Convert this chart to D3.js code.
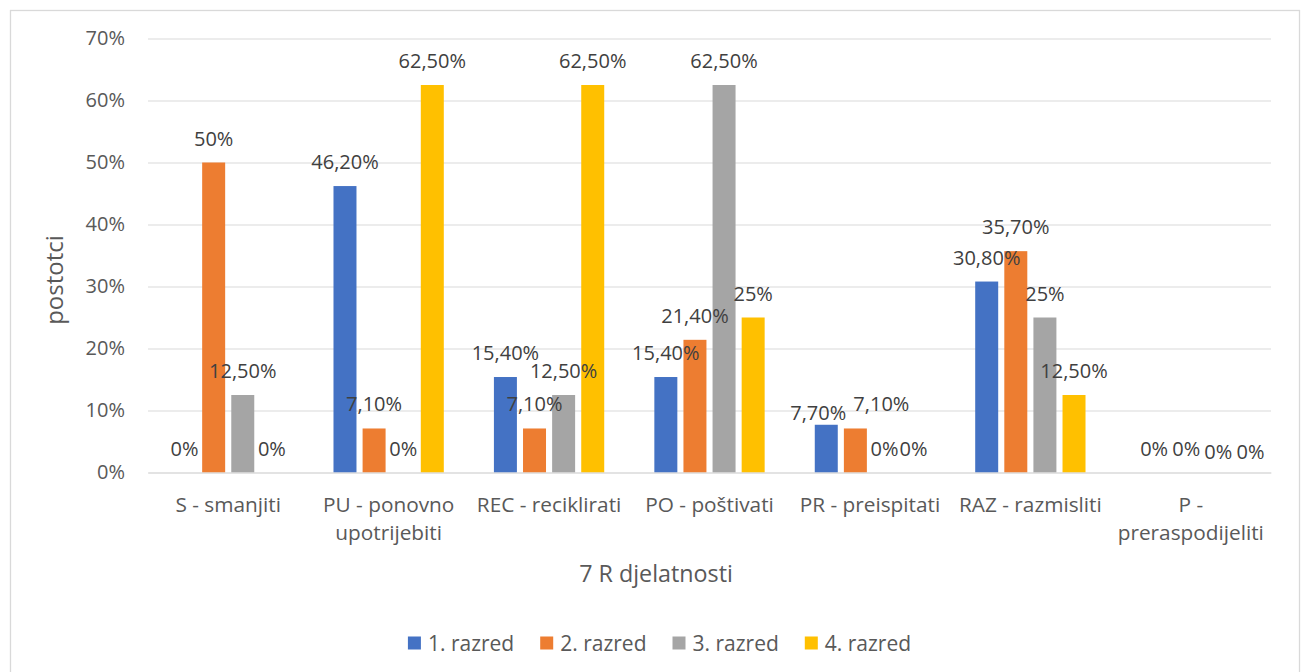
<!DOCTYPE html>
<html><head><meta charset="utf-8">
<script src="https://cdn.jsdelivr.net/npm/d3@7"></script>
<style>
body{margin:0;background:#fff}
text{font-family:"Open Sans","Noto Sans",sans-serif}
</style>
</head><body><svg id="c" width="1304" height="672"></svg>
<script>
const categories = ["S - smanjiti","PU - ponovno upotrijebiti","REC - reciklirati","PO - poštivati","PR - preispitati","RAZ - razmisliti","P - preraspodijeliti"];
const seriesNames = ["1. razred","2. razred","3. razred","4. razred"];
const seriesColors = ["#4472C4","#ED7D31","#A5A5A5","#FFC000"];
const razred1 = [0, 46.2, 15.4, 15.4, 7.7, 30.8, 0];
const razred2 = [50, 7.1, 7.1, 21.4, 7.1, 35.7, 0];
const razred3 = [12.5, 0, 12.5, 62.5, 0, 25, 0];
const razred4 = [0, 62.5, 62.5, 25, 0, 12.5, 0];
const yTicks = [0,10,20,30,40,50,60,70];
const yAxisTitle = "postotci";
const xAxisTitle = "7 R djelatnosti";

// label placement adjustments (style only), key: "categoryIndex-seriesIndex" -> [dx, dy]
const labelNudge = {"4-0":[-8,12], "4-1":[26,0], "6-0":[7,0], "6-1":[10,0], "6-2":[13,3], "6-3":[16,3]};

const seriesValues = [razred1, razred2, razred3, razred4];
const rows = categories.map((c,i)=>({cat:c, ci:i, vals: seriesValues.map((s,j)=>({s:j, ci:i, v:s[i]}))}));

const svg = d3.select("#c");
const L = 148, R = 1271, T = 38.5, B = 472.5;
const FS = 20, FONT = '"Open Sans","Noto Sans",sans-serif';

// chart border
svg.append("rect").attr("x",10.5).attr("y",10.5).attr("width",1289).attr("height",700)
  .attr("fill","#fff").attr("stroke","#D9D9D9").attr("stroke-width",1.3);

const x0 = d3.scaleBand().domain(categories).range([L,R]).paddingInner(0).paddingOuter(0);
const x1 = d3.scaleBand().domain(d3.range(seriesNames.length)).range([0,x0.bandwidth()])
  .paddingInner(0.21).paddingOuter(0.861);
const y = d3.scaleLinear().domain([0,70]).range([B,T]);

// gridlines
const grid = svg.append("g").attr("transform",`translate(${L},0)`)
  .call(d3.axisLeft(y).tickValues(yTicks).tickSize(-(R-L)).tickFormat(""));
grid.select(".domain").remove();
grid.selectAll("line").attr("stroke","#D9D9D9").attr("stroke-width",1.2);

// y tick labels
const yAx = svg.append("g").attr("transform",`translate(${L},0)`)
  .call(d3.axisLeft(y).tickValues(yTicks).tickSize(0).tickPadding(23).tickFormat(d=>d+"%"));
yAx.select(".domain").remove();
yAx.selectAll("text").attr("fill","#595959").style("font-size",FS+"px").style("font-family",FONT);

// bars
const fmt = v => Number.isInteger(v) ? v+"%" : v.toFixed(2).replace(".",",")+"%";
const nud = d => labelNudge[d.ci+"-"+d.s] || [0,0];
const groups = svg.append("g").selectAll("g").data(rows).join("g")
  .attr("transform",d=>`translate(${x0(d.cat)},0)`);
groups.selectAll("rect").data(d=>d.vals).join("rect")
  .attr("x",d=>x1(d.s)).attr("width",x1.bandwidth())
  .attr("y",d=>y(d.v)).attr("height",d=>B-y(d.v))
  .attr("fill",d=>seriesColors[d.s]);
groups.selectAll("text").data(d=>d.vals).join("text")
  .attr("x",d=>x1(d.s)+x1.bandwidth()/2+nud(d)[0]).attr("y",d=>y(d.v)-17+nud(d)[1])
  .attr("text-anchor","middle").attr("fill","#404040").style("font-size",FS+"px")
  .text(d=>fmt(d.v));

// x axis with wrapped labels
const XFS = 20.8;
const xAx = svg.append("g").attr("transform",`translate(0,${B})`)
  .call(d3.axisBottom(x0).tickSize(0).tickPadding(0));
xAx.select(".domain").attr("stroke","#D9D9D9").attr("stroke-width",1.2);
xAx.selectAll("text").attr("fill","#595959").style("font-size",XFS+"px")
  .style("font-family",FONT)
  .each(function(d){
    const t = d3.select(this);
    const words = d.split(" ");
    t.text(null).attr("y",0).attr("dy",null);
    const maxW = x0.bandwidth()-4;
    let lines = [], cur = [];
    const probe = t.append("tspan");
    words.forEach(w=>{
      const test = cur.concat([w]).join(" ");
      probe.text(test);
      if (probe.node().getComputedTextLength() > maxW && cur.length){ lines.push(cur.join(" ")); cur=[w]; }
      else cur.push(w);
    });
    lines.push(cur.join(" "));
    probe.remove();
    lines.forEach((ln,i)=>{
      t.append("tspan").attr("x",0).attr("y",39.5+i*28).text(ln);
    });
  });

// axis titles
svg.append("text").attr("transform","translate(63,280) rotate(-90)")
  .attr("text-anchor","middle").attr("fill","#595959").style("font-size","24px").text(yAxisTitle);
svg.append("text").attr("x",656).attr("y",582)
  .attr("text-anchor","middle").attr("fill","#595959").style("font-size","23.3px").text(xAxisTitle);

// legend
const leg = svg.append("g");
const items = leg.selectAll("g").data(seriesNames).join("g");
items.append("rect").attr("width",13).attr("height",13).attr("y",636.5).attr("fill",(d,i)=>seriesColors[i]);
items.append("text").attr("x",20).attr("y",650.5).attr("fill","#595959").style("font-size","21px").text(d=>d);
const widths = [];
items.each(function(){ widths.push(this.getBBox().width); });
const gap = 26;
const total = d3.sum(widths) + gap*(widths.length-1);
let start = 659.5 - total/2;
items.attr("transform",(d,i)=>{ const tx = start; start += widths[i]+gap; return `translate(${tx},0)`; });
</script>
</body></html>
